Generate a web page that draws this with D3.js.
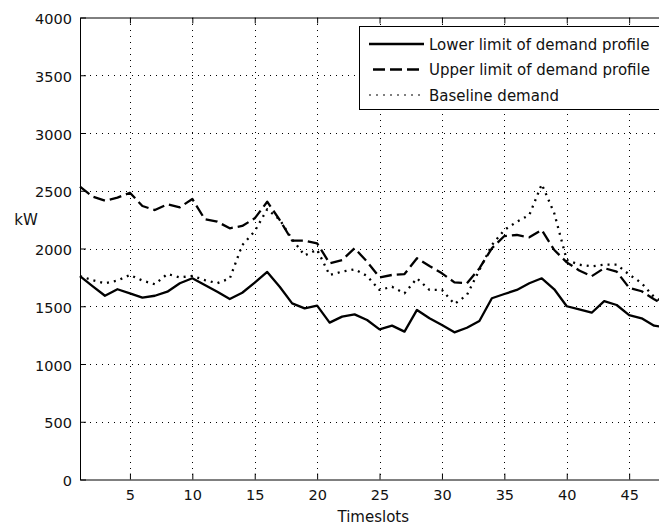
<!DOCTYPE html>
<html>
<head>
<meta charset="utf-8">
<script src="https://cdn.jsdelivr.net/npm/d3@7"></script>
<style>
  body { margin: 0; background: #fff; }
  svg { display: block; font-family: "DejaVu Sans", sans-serif; }
</style>
</head>
<body>
<div id="chart"></div>
<script>
var timeslots = [1,2,3,4,5,6,7,8,9,10,11,12,13,14,15,16,17,18,19,20,21,22,23,24,
  25,26,27,28,29,30,31,32,33,34,35,36,37,38,39,40,41,42,43,44,45,46,47,48];

var lowerLimit = [1760,1675,1591,1647,1612,1574,1591,1626,1699,1742,1684,1626,1563,1617,1704,1797,
  1669,1525,1482,1505,1358,1410,1430,1381,1300,1332,1280,1468,1396,1338,1274,1314,
  1372,1569,1606,1641,1699,1742,1647,1500,1473,1444,1545,1511,1424,1396,1332,1315];

var upperLimit = [2535,2449,2414,2440,2483,2368,2333,2383,2357,2429,2253,2232,2175,2195,2261,2405,
  2247,2068,2068,2045,1872,1900,2002,1886,1750,1771,1779,1915,1848,1785,1707,1699,
  1828,2002,2108,2117,2097,2160,1987,1880,1810,1760,1830,1800,1660,1630,1560,1500];

var baseline = [1760,1727,1699,1722,1771,1722,1690,1779,1750,1762,1727,1700,1740,2030,2150,2340,
  2250,2080,1940,1990,1771,1800,1820,1762,1641,1669,1612,1742,1641,1641,1519,1597,
  1814,2030,2160,2232,2290,2556,2305,1900,1860,1845,1860,1860,1775,1700,1580,1520];

var xTicks = [5,10,15,20,25,30,35,40,45];
var yTicks = [0,500,1000,1500,2000,2500,3000,3500,4000];

var seriesNames = ["Lower limit of demand profile", "Upper limit of demand profile", "Baseline demand"];

var svgWidth = 659,
  svgHeight = 527,
  plotLeft = 80,
  plotRight = 666.6,
  plotTop = 17.5,
  plotBottom = 479.5,
  tickLen = 6;

var dashes = ["none", "12,5", "2,5"];

var svg = d3.select("#chart").append("svg")
  .attr("width", svgWidth)
  .attr("height", svgHeight);

// dot patterns for the dotted grid
var defs = svg.append("defs");
defs.append("pattern")
  .attr("id", "hdots")
  .attr("patternUnits", "userSpaceOnUse")
  .attr("width", 6).attr("height", 1)
  .append("rect").attr("width", 1).attr("height", 1).attr("fill", "#000");
defs.append("pattern")
  .attr("id", "vdots")
  .attr("patternUnits", "userSpaceOnUse")
  .attr("width", 1).attr("height", 6)
  .append("rect").attr("width", 1).attr("height", 1).attr("fill", "#000");

var x = d3.scaleLinear().domain([1, 48]).range([plotLeft, plotRight]);
var y = d3.scaleLinear().domain([0, 4000]).range([plotBottom, plotTop]);

// GRID.
svg.append("g").selectAll("rect")
  .data(xTicks).enter()
  .append("rect")
  .attr("x", function(d){ return Math.round(x(d)); })
  .attr("y", Math.round(plotTop))
  .attr("width", 1)
  .attr("height", Math.round(plotBottom - plotTop))
  .attr("fill", "url(#vdots)");

svg.append("g").selectAll("rect")
  .data(yTicks.slice(1, -1)).enter()
  .append("rect")
  .attr("x", plotLeft)
  .attr("y", function(d){ return Math.round(y(d)); })
  .attr("width", plotRight - plotLeft)
  .attr("height", 1)
  .attr("fill", "url(#hdots)");

// AXES (box with inward ticks).
var xAxisB = d3.axisBottom(x).tickValues(xTicks).tickSizeInner(-tickLen).tickSizeOuter(0).tickPadding(10);
var xAxisT = d3.axisTop(x).tickValues(xTicks).tickSizeInner(-tickLen).tickSizeOuter(0).tickFormat("");
var yAxisL = d3.axisLeft(y).tickValues(yTicks).tickSizeInner(-tickLen).tickSizeOuter(0).tickPadding(8)
  .tickFormat(d3.format("d"));
var yAxisR = d3.axisRight(y).tickValues(yTicks).tickSizeInner(-tickLen).tickSizeOuter(0).tickFormat("");

var gB = svg.append("g").attr("transform", "translate(0," + plotBottom + ")").call(xAxisB);
var gT = svg.append("g").attr("transform", "translate(0," + plotTop + ")").call(xAxisT);
var gL = svg.append("g").attr("transform", "translate(" + plotLeft + ",0)").call(yAxisL);
var gR = svg.append("g").attr("transform", "translate(" + plotRight + ",0)").call(yAxisR);

[gB, gT, gL, gR].forEach(function(g){
  g.selectAll("path, line").attr("stroke", "#000");
  g.selectAll("text")
    .attr("font-family", "DejaVu Sans, sans-serif")
    .attr("font-size", "14.5px")
    .attr("fill", "#111");
});
gL.selectAll("text").attr("dy", "0.42em");

// LABELS.
svg.append("text")
  .text("Timeslots")
  .attr("x", (plotLeft + plotRight) / 2)
  .attr("y", 522)
  .attr("text-anchor", "middle")
  .attr("font-size", "15px")
  .attr("fill", "#111");

svg.append("text")
  .text("kW")
  .attr("x", 26)
  .attr("y", 225)
  .attr("text-anchor", "middle")
  .attr("font-size", "15px")
  .attr("fill", "#111");

// LINES.
var series = [lowerLimit, upperLimit, baseline];
var line = d3.line()
  .x(function(d, i){ return x(timeslots[i]); })
  .y(function(d){ return y(d); });

svg.append("g").selectAll("path")
  .data(series).enter()
  .append("path")
  .attr("d", line)
  .attr("fill", "none")
  .attr("stroke", "#000")
  .attr("stroke-width", 2.3)
  .attr("stroke-linejoin", "round")
  .attr("stroke-dasharray", function(d, i){ return dashes[i]; });

// LEGEND.
var legend = svg.append("g");
legend.append("rect")
  .attr("x", 359.5)
  .attr("y", 26.5)
  .attr("width", 303)
  .attr("height", 83)
  .attr("fill", "#fff")
  .attr("stroke", "#000");

var rows = legend.selectAll("g.row")
  .data(seriesNames).enter()
  .append("g")
  .attr("class", "row")
  .attr("transform", function(d, i){ return "translate(0," + (44 + i * 25.5) + ")"; });

rows.append("line")
  .attr("x1", function(d, i){ return i == 1 ? 373 : 369; })
  .attr("x2", 424)
  .attr("stroke", "#000")
  .attr("stroke-width", function(d, i){ return i == 2 ? 1.2 : 2.3; })
  .attr("stroke-dasharray", function(d, i){ return dashes[i]; });

rows.append("text")
  .text(function(d){ return d; })
  .attr("x", 429)
  .attr("y", 5.5)
  .attr("font-size", "15px")
  .attr("fill", "#111");
</script>
</body>
</html>
